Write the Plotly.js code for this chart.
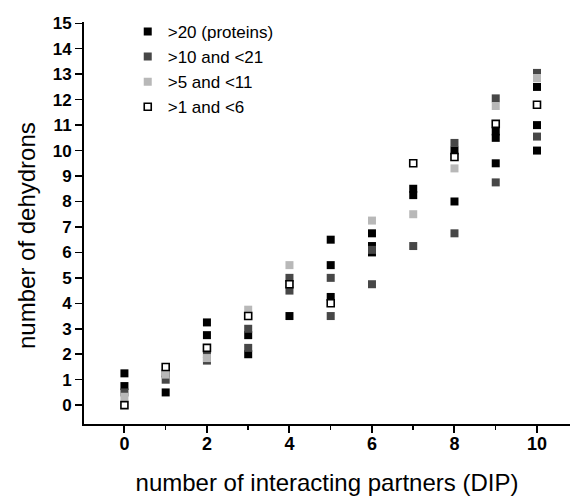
<!DOCTYPE html>
<html>
<head>
<meta charset="utf-8">
<script src="https://cdn.plot.ly/plotly-3.0.1.min.js"></script>
<style>html,body{margin:0;padding:0;background:#fff;}#chart{width:570px;height:497px;}</style>
</head>
<body>
<div id="chart"></div>
<script>
// Series names
const seriesNames = [">20 (proteins)", ">10 and <21", ">5 and <11", ">1 and <6"];

// >20 proteins (black)
const blackX = [0, 0, 1, 1, 2, 2, 3, 3, 4, 5, 5, 5, 6, 6, 6, 7, 7, 8, 8, 9, 9, 9, 10, 10, 10];
const blackY = [1.25, 0.75, 1.25, 0.5, 3.25, 2.75, 2.75, 2.0, 3.5, 6.5, 5.5, 4.25, 6.75, 6.25, 6.0, 8.5, 8.25, 10.0, 8.0, 10.75, 10.5, 9.5, 12.5, 11.0, 10.0];

// >10 and <21 (dark grey)
const darkX = [0, 1, 2, 2, 3, 3, 4, 4, 5, 5, 6, 6, 7, 8, 8, 9, 9, 10, 10];
const darkY = [0.5, 1.0, 2.0, 1.75, 3.0, 2.25, 5.0, 4.5, 5.0, 3.5, 6.1, 4.75, 6.25, 10.3, 6.75, 12.05, 8.75, 13.05, 10.55];

// >5 and <11 (light grey)
const lightX = [0, 1, 2, 3, 4, 6, 7, 8, 9, 10];
const lightY = [0.33, 1.2, 1.85, 3.75, 5.5, 7.25, 7.5, 9.3, 11.75, 12.85];

// >1 and <6 (open)
const openX = [0, 1, 2, 3, 4, 5, 7, 8, 9, 10];
const openY = [0.0, 1.5, 2.25, 3.5, 4.75, 4.0, 9.5, 9.75, 11.05, 11.8];

const xTickVals = [0, 2, 4, 6, 8, 10];
const yTickVals = [0,1,2,3,4,5,6,7,8,9,10,11,12,13,14,15];

const xTitle = "number of interacting partners (DIP)";
const yTitle = "number of dehydrons";

const FONT = "Liberation Sans, Arial, sans-serif";
const msize = 8;

const traces = [
  {x: blackX, y: blackY, name: seriesNames[0], type: "scatter", mode: "markers",
   marker: {symbol: "square", size: msize, color: "#000000", line: {width: 0}}},
  {x: darkX, y: darkY, name: seriesNames[1], type: "scatter", mode: "markers",
   marker: {symbol: "square", size: msize, color: "#474747", line: {width: 0}}},
  {x: lightX, y: lightY, name: seriesNames[2], type: "scatter", mode: "markers",
   marker: {symbol: "square", size: msize, color: "#b8b8b8", line: {width: 0}}},
  {x: openX, y: openY, name: seriesNames[3], type: "scatter", mode: "markers",
   marker: {symbol: "square", size: msize - 1, color: "#ffffff", line: {width: 1.6, color: "#000000"}}}
];

const layout = {
  width: 570, height: 497,
  margin: {l: 84, r: 0, t: 22, b: 73},
  paper_bgcolor: "#ffffff", plot_bgcolor: "#ffffff",
  showlegend: true,
  legend: {x: 0.09, y: 1.02, xanchor: "left", yanchor: "top",
           font: {family: FONT, size: 17, color: "#000"}, bgcolor: "rgba(0,0,0,0)",
           tracegroupgap: 0, itemwidth: 30},
  xaxis: {
    range: [-0.98, 10.8], tickvals: xTickVals, ticks: "outside", ticklen: 7, tickwidth: 2,
    tickcolor: "#000", showline: true, linecolor: "#000", linewidth: 2, showgrid: false,
    zeroline: false, ticklabelstandoff: -5,
    tickfont: {family: FONT, size: 18, color: "#000", weight: "bold"},
    minor: {dtick: 1, tick0: 0, ticks: "outside", ticklen: 4, tickwidth: 1.5, tickcolor: "#000", showgrid: false},
    title: {text: xTitle, font: {family: FONT, size: 24, color: "#000"}, standoff: 22}
  },
  yaxis: {
    range: [-0.74, 15.05], tickvals: yTickVals, ticks: "outside", ticklen: 7, tickwidth: 1.5,
    tickcolor: "#000", showline: true, linecolor: "#000", linewidth: 2, showgrid: false,
    zeroline: false, tickfont: {family: FONT, size: 17, color: "#000", weight: "bold"}
  },
  annotations: [
    {text: yTitle, xref: "paper", yref: "paper", x: -0.117, y: 0.468, xanchor: "center", yanchor: "middle",
     textangle: -90, showarrow: false, font: {family: FONT, size: 24, color: "#000"}}
  ]
};

Plotly.newPlot("chart", traces, layout, {displayModeBar: false, staticPlot: true});
</script>
</body>
</html>
